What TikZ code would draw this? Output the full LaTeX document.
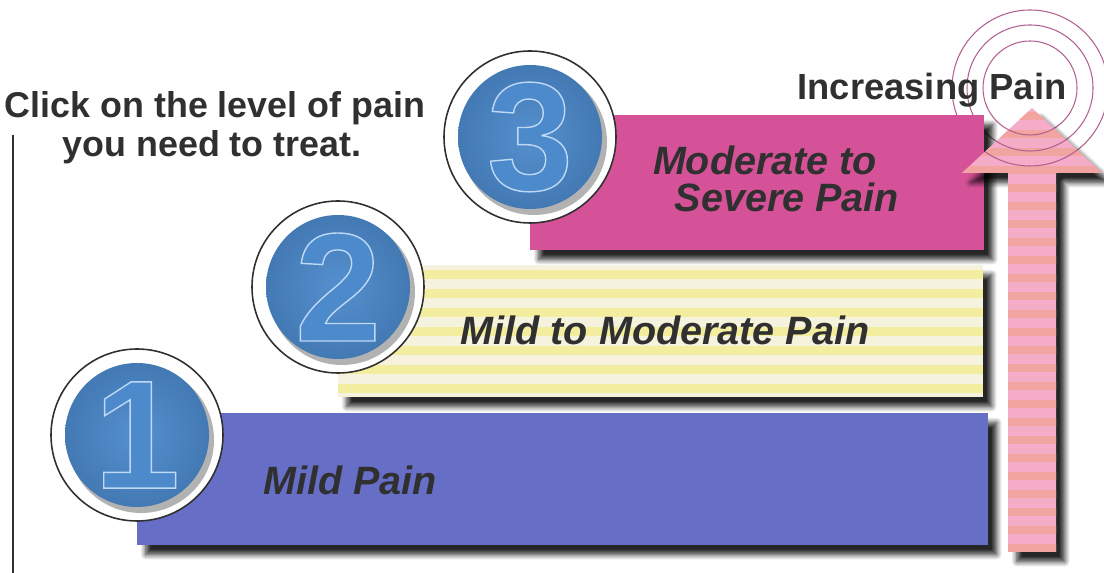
\documentclass[tikz,border=0pt]{standalone}
\usepackage{fontspec}
\setmainfont{Liberation Sans}
\usetikzlibrary{shadows.blur}

\definecolor{stepblue}{RGB}{102,110,198}
\definecolor{stepyellow}{RGB}{243,237,160}
\definecolor{steppale}{RGB}{245,243,222}
\definecolor{steppink}{RGB}{214,82,152}
\definecolor{discblue}{RGB}{76,138,204}
\definecolor{arrowpink}{RGB}{244,172,200}
\definecolor{arrowsalmon}{RGB}{242,164,160}
\definecolor{ringpurple}{RGB}{178,96,146}
\definecolor{inkgray}{RGB}{48,48,48}

% outlined digit: blue fill, pale stroke round the glyph
\newcommand{\embossed}[1]{%
  {\color{discblue}\special{pdf:literal direct 0.74 0.85 0.96 RG 0.8 w 2 Tr}#1\special{pdf:literal direct 0 Tr}}}

\tikzset{
  bar/.style={blur shadow={shadow xshift=5pt, shadow yshift=-5.5pt, shadow opacity=85,
      shadow blur steps=8, shadow blur radius=3pt}},
  bartext/.style={inner sep=0pt, anchor=base, text=inkgray,
      font=\fontsize{22.5}{26}\selectfont\bfseries\itshape},
  headtext/.style={inner sep=0pt, anchor=base, text=inkgray,
      font=\fontsize{20.4}{24}\selectfont\bfseries},
  digit/.style={inner sep=0pt, font=\fontsize{88}{88}\selectfont\bfseries},
  pulse/.style={draw=ringpurple, line width=0.6pt},
}

\begin{document}
\begin{tikzpicture}[x=0.02cm, y=0.02cm]
  \useasboundingbox (0,0) rectangle (1104,573);

  % Define corner coordinates of the three steps
  \coordinate (b1sw) at (137,28);  \coordinate (b1ne) at (988,160);
  \coordinate (b2sw) at (338,176); \coordinate (b2ne) at (983,308);
  \coordinate (b3sw) at (530,323); \coordinate (b3ne) at (984,458);

  % Disc centres sit on the left edge of each step
  \coordinate (c1) at (137,138);
  \coordinate (c2) at (338,286);
  \coordinate (c3) at (530,436);
  \coordinate (pulse) at (1030,485);

  \def\arrowpath{(1008,21) -- (1056,21) -- (1056,400) -- (1102,400) -- (1032,465) -- (962,400) -- (1008,400) -- cycle}

  % Rings round the arrow tip (behind the steps)
  \foreach \r in {47,63,78} \draw[pulse] (pulse) circle (\r);

  % Bracket line on the left
  \draw[inkgray, line width=1.1pt] (13,0) -- (13,438);

  % Draw the steps
  \fill[stepblue, bar] (b1sw) rectangle (b1ne);
  \fill[steppale, bar] (b2sw) rectangle (b2ne);
  \begin{scope}
    \clip (b2sw) rectangle (b2ne);
    \foreach \y in {180,199,...,308} \fill[stepyellow] (338,\y) rectangle (983,\y+9);
  \end{scope}
  \fill[steppink, bar] (b3sw) rectangle (b3ne);

  % The arrow, striped
  \fill[arrowpink, bar] \arrowpath;
  \begin{scope}
    \clip \arrowpath;
    \foreach \y in {21,39,...,465} \fill[arrowsalmon] (950,\y) rectangle (1104,\y+8);
    \foreach \r in {47,63,78} \draw[pulse] (pulse) circle (\r);
  \end{scope}

  % Discs with numbers
  \foreach \i in {1,2,3}{
    \filldraw[fill=white, draw=inkgray, line width=0.9pt] (c\i) circle (86);
    \fill[black, opacity=0.3] ([shift={(4,-5)}]c\i) circle (73);
    \shade[inner color=discblue!95!white, outer color=discblue!88!black] (c\i) circle (72);
    \node[digit] (n\i) at (c\i) {\embossed{\i}};
  }

  % Step labels
  \node[bartext] (mild) at (350,78) {Mild Pain};
  \node[bartext] (mildmod) at (665,228) {Mild to Moderate Pain};
  \node[bartext] (modsev1) at (765,398) {Moderate to};
  \node[bartext] (modsev2) at (787,361) {Severe Pain};

  % Headings
  \node[headtext] (click1) at (215,455) {Click on the level of pain};
  \node[headtext] (click2) at (212,416) {you need to treat.};
  \node[headtext, font=\fontsize{20.7}{24}\selectfont\bfseries] (incpain) at (932,473) {Increasing Pain};
\end{tikzpicture}
\end{document}
